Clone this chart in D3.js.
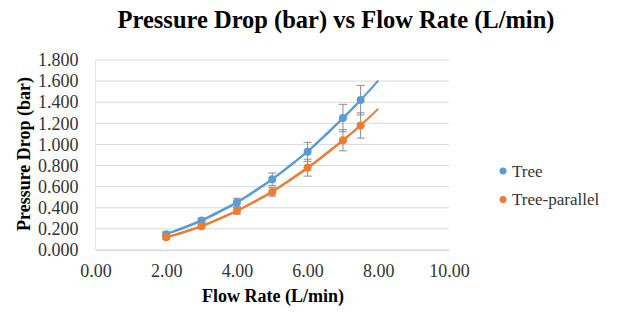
<!DOCTYPE html>
<html>
<head>
<meta charset="utf-8">
<script src="https://cdn.jsdelivr.net/npm/d3@7"></script>
<style>
  body { margin: 0; background: #fff; }
</style>
</head>
<body>
<div id="chart"></div>
<script>
// flow rate (L/min)
var flowRate = [2, 3, 4, 5, 6, 7, 7.5];
// pressure drop (bar)
var treeValues = [0.15, 0.28, 0.45, 0.67, 0.93, 1.25, 1.42];
var parallelValues = [0.12, 0.225, 0.37, 0.55, 0.78, 1.04, 1.18];
// error bars (+/-)
var treeErr = [0.02, 0.02, 0.04, 0.06, 0.09, 0.13, 0.14];
var parallelErr = [0.02, 0.02, 0.03, 0.04, 0.08, 0.10, 0.12];
var seriesNames = ["Tree", "Tree-parallel"];
var xTicks = [0, 2, 4, 6, 8, 10];
var yTicks = [0, 0.2, 0.4, 0.6, 0.8, 1.0, 1.2, 1.4, 1.6, 1.8];
var trendEnd = 8;

var svgWidth = 620;
var svgHeight = 312;
var colors = ["#5b9bd5", "#ed7d31"];
var serif = "'Liberation Serif', 'Times New Roman', serif";

var svg = d3.select("#chart")
    .append("svg")
    .attr("width", svgWidth)
    .attr("height", svgHeight)
    .style("font-family", serif);

var x = d3.scaleLinear().domain([0, 10]).range([95.5, 449]);
var y = d3.scaleLinear().domain([0, 1.8]).range([250, 60]);

// gridlines
svg.append("g")
    .selectAll("line")
    .data(yTicks)
    .enter()
    .append("line")
    .attr("x1", x(0))
    .attr("x2", x(10))
    .attr("y1", d => y(d))
    .attr("y2", d => y(d))
    .attr("stroke", "#d9d9d9")
    .attr("stroke-width", 1);

svg.append("line")
    .attr("x1", x(0)).attr("x2", x(0))
    .attr("y1", y(0)).attr("y2", y(1.8))
    .attr("stroke", "#e6e6e6");

var leftAxis = d3.axisLeft(y).tickValues(yTicks).tickFormat(d3.format(".3f")).tickSize(0).tickPadding(17);
var gy = svg.append("g").attr("transform", `translate(${x(0)},0)`).call(leftAxis);
gy.select(".domain").remove();
gy.selectAll("text").style("font-family", serif).style("font-size", "18px").attr("fill", "#333");

var bottomAxis = d3.axisBottom(x).tickValues(xTicks).tickFormat(d3.format(".2f")).tickSize(0).tickPadding(14);
var gx = svg.append("g").attr("transform", `translate(0,${y(0)})`).call(bottomAxis);
gx.select(".domain").attr("stroke", "#d9d9d9");
gx.selectAll("text").style("font-family", serif).style("font-size", "18px").attr("fill", "#333");

// quadratic least squares trendline like Excel
function polyFit(xs, ys) {
    var n = xs.length, s = [0, 0, 0, 0, 0], t = [0, 0, 0];
    for (var i = 0; i < n; i++) {
        for (var k = 0; k < 5; k++) s[k] += Math.pow(xs[i], k);
        for (var k = 0; k < 3; k++) t[k] += ys[i] * Math.pow(xs[i], k);
    }
    var A = [[s[0], s[1], s[2], t[0]], [s[1], s[2], s[3], t[1]], [s[2], s[3], s[4], t[2]]];
    for (var c = 0; c < 3; c++) {
        for (var r = c + 1; r < 3; r++) {
            var f = A[r][c] / A[c][c];
            for (var j = c; j < 4; j++) A[r][j] -= f * A[c][j];
        }
    }
    var b = [0, 0, 0];
    for (var r = 2; r >= 0; r--) {
        var v = A[r][3];
        for (var j = r + 1; j < 3; j++) v -= A[r][j] * b[j];
        b[r] = v / A[r][r];
    }
    return b;
}

var allSeries = [treeValues, parallelValues];
var allErr = [treeErr, parallelErr];

allSeries.forEach(function(vals, si) {
    var pts = flowRate.map((f, i) => ({x: f, y: vals[i], e: allErr[si][i]}));
    var coef = polyFit(flowRate, vals);
    var trend = d3.range(flowRate[0], trendEnd + 0.001, 0.1).map(v => ({x: v, y: coef[0] + coef[1] * v + coef[2] * v * v}));

    var line = d3.line().x(d => x(d.x)).y(d => y(d.y));
    svg.append("path")
        .datum(pts)
        .attr("d", line)
        .attr("fill", "none")
        .attr("stroke", colors[si])
        .attr("stroke-width", 2);
    svg.append("path")
        .datum(trend)
        .attr("d", line)
        .attr("fill", "none")
        .attr("stroke", colors[si])
        .attr("stroke-width", 2);

    var eb = svg.append("g").attr("stroke", "#8c8c8c").attr("stroke-width", 1);
    pts.forEach(function(p) {
        eb.append("line").attr("x1", x(p.x)).attr("x2", x(p.x)).attr("y1", y(p.y - p.e)).attr("y2", y(p.y + p.e));
        eb.append("line").attr("x1", x(p.x) - 4).attr("x2", x(p.x) + 4).attr("y1", y(p.y - p.e)).attr("y2", y(p.y - p.e));
        eb.append("line").attr("x1", x(p.x) - 4).attr("x2", x(p.x) + 4).attr("y1", y(p.y + p.e)).attr("y2", y(p.y + p.e));
    });

    svg.append("g")
        .selectAll("circle")
        .data(pts)
        .enter()
        .append("circle")
        .attr("cx", d => x(d.x))
        .attr("cy", d => y(d.y))
        .attr("r", 4)
        .attr("fill", colors[si]);
});

// title
svg.append("text")
    .attr("x", 336)
    .attr("y", 28)
    .attr("text-anchor", "middle")
    .style("font-size", "24.5px")
    .style("font-weight", "bold")
    .text("Pressure Drop (bar) vs Flow Rate (L/min)");

svg.append("text")
    .attr("transform", "translate(30,154) rotate(-90)")
    .attr("text-anchor", "middle")
    .style("font-size", "18px")
    .style("font-weight", "bold")
    .text("Pressure Drop (bar)");

svg.append("text")
    .attr("x", 273)
    .attr("y", 302)
    .attr("text-anchor", "middle")
    .style("font-size", "18px")
    .style("font-weight", "bold")
    .text("Flow Rate (L/min)");

// legend
var legend = svg.append("g").selectAll("g")
    .data(seriesNames)
    .enter()
    .append("g")
    .attr("transform", (d, i) => `translate(503,${171 + i * 28.5})`);
legend.append("circle").attr("r", 3.5).attr("fill", (d, i) => colors[i]);
legend.append("text")
    .attr("x", 9)
    .attr("dy", "0.35em")
    .style("font-family", serif)
    .style("font-size", "17px")
    .attr("fill", "#333")
    .text(d => d);
</script>
</body>
</html>
